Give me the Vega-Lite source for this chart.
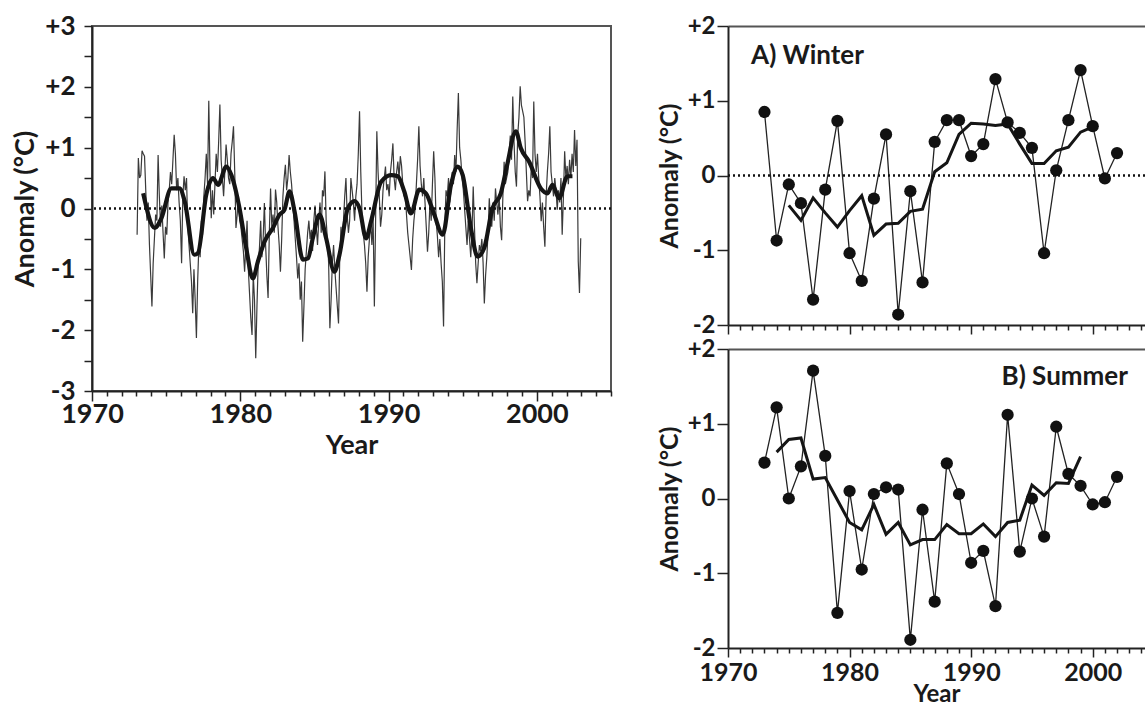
{
"$schema": "https://vega.github.io/schema/vega-lite/v6.json",
"background": "white",
"padding": {"left": 10, "top": 12, "right": 0, "bottom": 0},
"config": {
  "font": "Lato",
  "view": {"stroke": null},
  "axis": {"labelFont": "Lato", "labelFontWeight": "bold", "labelColor": "#1a1a1a", "titleFont": "Lato", "titleFontWeight": "bold", "titleColor": "#1a1a1a", "domainColor": "#222", "domainWidth": 2, "tickColor": "#222", "tickWidth": 1.5, "grid": false, "labelOverlap": false, "labelFlush": false, "labelBound": false}
},
"datasets": {
"monthly": [
{"t":1973.042,"v":-0.43},{"t":1973.125,"v":0.83},{"t":1973.208,"v":0.5},{"t":1973.292,"v":0.55},{"t":1973.375,"v":0.95},{"t":1973.458,"v":0.9},{"t":1973.542,"v":0.86},{"t":1973.625,"v":0.3},{"t":1973.708,"v":-0.2},{"t":1973.792,"v":0.1},{"t":1973.875,"v":-0.6},{"t":1973.958,"v":-1.1},
{"t":1974.042,"v":-1.61},{"t":1974.125,"v":-0.9},{"t":1974.208,"v":-0.5},{"t":1974.292,"v":-0.1},{"t":1974.375,"v":-0.2},{"t":1974.458,"v":0.88},{"t":1974.542,"v":0.2},{"t":1974.625,"v":-0.3},{"t":1974.708,"v":0.05},{"t":1974.792,"v":-0.4},{"t":1974.875,"v":-0.82},{"t":1974.958,"v":-0.3},
{"t":1975.042,"v":-0.43},{"t":1975.125,"v":0.1},{"t":1975.208,"v":0.3},{"t":1975.292,"v":0.6},{"t":1975.375,"v":0.4},{"t":1975.458,"v":0.8},{"t":1975.542,"v":1.21},{"t":1975.625,"v":0.9},{"t":1975.708,"v":0.3},{"t":1975.792,"v":0.5},{"t":1975.875,"v":0.1},{"t":1975.958,"v":-0.2},
{"t":1976.042,"v":-0.9},{"t":1976.125,"v":0.2},{"t":1976.208,"v":0.53},{"t":1976.292,"v":0.3},{"t":1976.375,"v":0.5},{"t":1976.458,"v":-0.3},{"t":1976.542,"v":-0.6},{"t":1976.625,"v":-0.9},{"t":1976.708,"v":-1.2},{"t":1976.792,"v":-1.72},{"t":1976.875,"v":-1.0},{"t":1976.958,"v":-1.5},
{"t":1977.042,"v":-2.13},{"t":1977.125,"v":-1.2},{"t":1977.208,"v":-0.6},{"t":1977.292,"v":-0.8},{"t":1977.375,"v":-0.2},{"t":1977.458,"v":-0.43},{"t":1977.542,"v":0.2},{"t":1977.625,"v":0.5},{"t":1977.708,"v":0.9},{"t":1977.792,"v":0.4},{"t":1977.875,"v":1.77},{"t":1977.958,"v":0.6},
{"t":1978.042,"v":-0.16},{"t":1978.125,"v":0.3},{"t":1978.208,"v":-0.1},{"t":1978.292,"v":0.4},{"t":1978.375,"v":0.9},{"t":1978.458,"v":0.6},{"t":1978.542,"v":1.1},{"t":1978.625,"v":1.71},{"t":1978.708,"v":0.8},{"t":1978.792,"v":0.5},{"t":1978.875,"v":0.2},{"t":1978.958,"v":0.6},
{"t":1979.042,"v":1.05},{"t":1979.125,"v":0.8},{"t":1979.208,"v":0.5},{"t":1979.292,"v":0.4},{"t":1979.375,"v":0.9},{"t":1979.458,"v":1.1},{"t":1979.542,"v":1.35},{"t":1979.625,"v":0.6},{"t":1979.708,"v":-0.32},{"t":1979.792,"v":-0.1},{"t":1979.875,"v":0.2},{"t":1979.958,"v":-0.2},
{"t":1980.042,"v":-0.3},{"t":1980.125,"v":-0.5},{"t":1980.208,"v":-0.7},{"t":1980.292,"v":-1.04},{"t":1980.375,"v":-0.6},{"t":1980.458,"v":-0.2},{"t":1980.542,"v":-1.0},{"t":1980.625,"v":-1.4},{"t":1980.708,"v":-1.8},{"t":1980.792,"v":-2.08},{"t":1980.875,"v":-1.09},{"t":1980.958,"v":-1.5},
{"t":1981.042,"v":-2.46},{"t":1981.125,"v":-1.6},{"t":1981.208,"v":-0.9},{"t":1981.292,"v":-0.65},{"t":1981.375,"v":-0.2},{"t":1981.458,"v":-0.8},{"t":1981.542,"v":-0.5},{"t":1981.625,"v":0.09},{"t":1981.708,"v":-0.6},{"t":1981.792,"v":-1.1},{"t":1981.875,"v":-1.47},{"t":1981.958,"v":-0.4},
{"t":1982.042,"v":0.33},{"t":1982.125,"v":-0.3},{"t":1982.208,"v":-0.1},{"t":1982.292,"v":-0.4},{"t":1982.375,"v":0.31},{"t":1982.458,"v":0.1},{"t":1982.542,"v":-0.3},{"t":1982.625,"v":-0.6},{"t":1982.708,"v":-1.04},{"t":1982.792,"v":-0.5},{"t":1982.875,"v":0.2},{"t":1982.958,"v":0.5},
{"t":1983.042,"v":0.72},{"t":1983.125,"v":0.3},{"t":1983.208,"v":0.5},{"t":1983.292,"v":0.88},{"t":1983.375,"v":0.6},{"t":1983.458,"v":0.4},{"t":1983.542,"v":0.1},{"t":1983.625,"v":-0.2},{"t":1983.708,"v":-0.5},{"t":1983.792,"v":-0.8},{"t":1983.875,"v":-1.15},{"t":1983.958,"v":-0.9},
{"t":1984.042,"v":-1.5},{"t":1984.125,"v":-1.2},{"t":1984.208,"v":-2.19},{"t":1984.292,"v":-1.61},{"t":1984.375,"v":-1.0},{"t":1984.458,"v":-0.7},{"t":1984.542,"v":-0.4},{"t":1984.625,"v":-0.2},{"t":1984.708,"v":-0.5},{"t":1984.792,"v":-0.35},{"t":1984.875,"v":-0.7},{"t":1984.958,"v":-0.2},
{"t":1985.042,"v":0.05},{"t":1985.125,"v":-0.3},{"t":1985.208,"v":-0.6},{"t":1985.292,"v":-0.2},{"t":1985.375,"v":0.1},{"t":1985.458,"v":-0.4},{"t":1985.542,"v":0.3},{"t":1985.625,"v":0.2},{"t":1985.708,"v":0.61},{"t":1985.792,"v":-0.2},{"t":1985.875,"v":-0.5},{"t":1985.958,"v":-0.9},
{"t":1986.042,"v":-1.97},{"t":1986.125,"v":-1.5},{"t":1986.208,"v":-0.9},{"t":1986.292,"v":-0.6},{"t":1986.375,"v":-1.0},{"t":1986.458,"v":-1.3},{"t":1986.542,"v":-1.6},{"t":1986.625,"v":-1.89},{"t":1986.708,"v":-0.8},{"t":1986.792,"v":-0.3},{"t":1986.875,"v":-0.6},{"t":1986.958,"v":-0.2},
{"t":1987.042,"v":0.2},{"t":1987.125,"v":0.5},{"t":1987.208,"v":-0.1},{"t":1987.292,"v":-0.4},{"t":1987.375,"v":-0.2},{"t":1987.458,"v":0.5},{"t":1987.542,"v":0.3},{"t":1987.625,"v":0.1},{"t":1987.708,"v":-0.2},{"t":1987.792,"v":0.2},{"t":1987.875,"v":0.4},{"t":1987.958,"v":0.9},
{"t":1988.042,"v":1.6},{"t":1988.125,"v":0.6},{"t":1988.208,"v":-0.1},{"t":1988.292,"v":-0.4},{"t":1988.375,"v":-0.6},{"t":1988.458,"v":-0.9},{"t":1988.542,"v":-1.37},{"t":1988.625,"v":-0.8},{"t":1988.708,"v":-0.5},{"t":1988.792,"v":-0.2},{"t":1988.875,"v":-0.6},{"t":1988.958,"v":-0.16},
{"t":1989.042,"v":-1.61},{"t":1989.125,"v":-0.2},{"t":1989.208,"v":1.27},{"t":1989.292,"v":0.6},{"t":1989.375,"v":0.2},{"t":1989.458,"v":-0.3},{"t":1989.542,"v":-0.1},{"t":1989.625,"v":0.3},{"t":1989.708,"v":0.5},{"t":1989.792,"v":0.69},{"t":1989.875,"v":0.3},{"t":1989.958,"v":0.4},
{"t":1990.042,"v":0.2},{"t":1990.125,"v":0.6},{"t":1990.208,"v":0.8},{"t":1990.292,"v":1.07},{"t":1990.375,"v":0.5},{"t":1990.458,"v":0.3},{"t":1990.542,"v":0.6},{"t":1990.625,"v":0.77},{"t":1990.708,"v":0.5},{"t":1990.792,"v":0.86},{"t":1990.875,"v":0.7},{"t":1990.958,"v":0.4},
{"t":1991.042,"v":0.2},{"t":1991.125,"v":0.3},{"t":1991.208,"v":-0.1},{"t":1991.292,"v":-0.4},{"t":1991.375,"v":-0.6},{"t":1991.458,"v":-0.8},{"t":1991.542,"v":-1.01},{"t":1991.625,"v":-0.5},{"t":1991.708,"v":-0.2},{"t":1991.792,"v":0.0},{"t":1991.875,"v":0.4},{"t":1991.958,"v":0.8},
{"t":1992.042,"v":1.35},{"t":1992.125,"v":0.7},{"t":1992.208,"v":0.4},{"t":1992.292,"v":0.2},{"t":1992.375,"v":0.5},{"t":1992.458,"v":0.1},{"t":1992.542,"v":-0.3},{"t":1992.625,"v":-0.71},{"t":1992.708,"v":-0.4},{"t":1992.792,"v":0.1},{"t":1992.875,"v":-0.2},{"t":1992.958,"v":0.4},
{"t":1993.042,"v":0.94},{"t":1993.125,"v":0.5},{"t":1993.208,"v":-0.2},{"t":1993.292,"v":-0.45},{"t":1993.375,"v":-0.8},{"t":1993.458,"v":-0.5},{"t":1993.542,"v":-0.9},{"t":1993.625,"v":-1.2},{"t":1993.708,"v":-1.94},{"t":1993.792,"v":-0.3},{"t":1993.875,"v":0.3},{"t":1993.958,"v":0.2},
{"t":1994.042,"v":0.5},{"t":1994.125,"v":0.1},{"t":1994.208,"v":0.3},{"t":1994.292,"v":0.6},{"t":1994.375,"v":0.4},{"t":1994.458,"v":0.88},{"t":1994.542,"v":0.6},{"t":1994.625,"v":1.3},{"t":1994.708,"v":1.9},{"t":1994.792,"v":1.0},{"t":1994.875,"v":0.8},{"t":1994.958,"v":0.5},
{"t":1995.042,"v":0.3},{"t":1995.125,"v":0.0},{"t":1995.208,"v":-0.3},{"t":1995.292,"v":-0.6},{"t":1995.375,"v":-0.2},{"t":1995.458,"v":-0.5},{"t":1995.542,"v":-0.8},{"t":1995.625,"v":-0.4},{"t":1995.708,"v":0.36},{"t":1995.792,"v":-0.3},{"t":1995.875,"v":-0.9},{"t":1995.958,"v":-1.23},
{"t":1996.042,"v":-0.9},{"t":1996.125,"v":-0.6},{"t":1996.208,"v":-0.7},{"t":1996.292,"v":-0.5},{"t":1996.375,"v":-0.9},{"t":1996.458,"v":-1.56},{"t":1996.542,"v":-1.1},{"t":1996.625,"v":-0.8},{"t":1996.708,"v":-0.4},{"t":1996.792,"v":0.17},{"t":1996.875,"v":-0.2},{"t":1996.958,"v":-0.3},
{"t":1997.042,"v":0.1},{"t":1997.125,"v":-0.2},{"t":1997.208,"v":0.33},{"t":1997.292,"v":0.1},{"t":1997.375,"v":-0.1},{"t":1997.458,"v":0.2},{"t":1997.542,"v":-0.3},{"t":1997.625,"v":-0.52},{"t":1997.708,"v":0.2},{"t":1997.792,"v":0.77},{"t":1997.875,"v":0.4},{"t":1997.958,"v":0.5},
{"t":1998.042,"v":0.6},{"t":1998.125,"v":0.9},{"t":1998.208,"v":1.2},{"t":1998.292,"v":0.8},{"t":1998.375,"v":1.84},{"t":1998.458,"v":1.1},{"t":1998.542,"v":0.6},{"t":1998.625,"v":0.36},{"t":1998.708,"v":1.2},{"t":1998.792,"v":1.5},{"t":1998.875,"v":2.01},{"t":1998.958,"v":1.7},
{"t":1999.042,"v":1.6},{"t":1999.125,"v":1.5},{"t":1999.208,"v":1.1},{"t":1999.292,"v":0.6},{"t":1999.375,"v":0.12},{"t":1999.458,"v":0.3},{"t":1999.542,"v":0.2},{"t":1999.625,"v":0.7},{"t":1999.708,"v":0.5},{"t":1999.792,"v":1.76},{"t":1999.875,"v":0.9},{"t":1999.958,"v":0.6},
{"t":2000.042,"v":0.9},{"t":2000.125,"v":0.5},{"t":2000.208,"v":0.2},{"t":2000.292,"v":-0.21},{"t":2000.375,"v":0.1},{"t":2000.458,"v":-0.3},{"t":2000.542,"v":-0.63},{"t":2000.625,"v":0.2},{"t":2000.708,"v":0.6},{"t":2000.792,"v":0.9},{"t":2000.875,"v":1.35},{"t":2000.958,"v":0.6},
{"t":2001.042,"v":0.4},{"t":2001.125,"v":0.2},{"t":2001.208,"v":0.5},{"t":2001.292,"v":0.3},{"t":2001.375,"v":-0.02},{"t":2001.458,"v":0.3},{"t":2001.542,"v":0.1},{"t":2001.625,"v":0.5},{"t":2001.708,"v":-0.43},{"t":2001.792,"v":0.2},{"t":2001.875,"v":0.94},{"t":2001.958,"v":0.5},
{"t":2002.042,"v":0.7},{"t":2002.125,"v":0.4},{"t":2002.208,"v":0.8},{"t":2002.292,"v":0.5},{"t":2002.375,"v":0.9},{"t":2002.458,"v":0.6},{"t":2002.542,"v":1.29},{"t":2002.625,"v":0.7},{"t":2002.708,"v":1.13},{"t":2002.792,"v":-0.87},{"t":2002.875,"v":-1.39},{"t":2002.958,"v":-0.49}
],
"smooth": [
{"t":1973.45,"v":0.25},{"t":1974.23,"v":-0.32},{"t":1974.68,"v":-0.16},{"t":1975.35,"v":0.33},{"t":1975.9,"v":0.33},{"t":1976.25,"v":0.12},{"t":1976.9,"v":-0.76},{"t":1977.15,"v":-0.73},{"t":1977.7,"v":0.22},{"t":1978.16,"v":0.5},{"t":1978.5,"v":0.39},{"t":1979.06,"v":0.69},{"t":1979.4,"v":0.55},{"t":1979.95,"v":0.0},{"t":1980.4,"v":-0.65},{"t":1980.85,"v":-1.15},{"t":1981.19,"v":-0.87},{"t":1981.64,"v":-0.54},{"t":1982.2,"v":-0.32},{"t":1982.65,"v":-0.1},{"t":1982.98,"v":-0.02},{"t":1983.32,"v":0.28},{"t":1983.66,"v":-0.05},{"t":1984.22,"v":-0.84},{"t":1984.56,"v":-0.82},{"t":1984.89,"v":-0.49},{"t":1985.34,"v":-0.1},{"t":1985.79,"v":-0.49},{"t":1986.35,"v":-1.04},{"t":1986.69,"v":-0.76},{"t":1987.25,"v":0.0},{"t":1987.7,"v":0.12},{"t":1988.04,"v":0.0},{"t":1988.48,"v":-0.49},{"t":1988.82,"v":-0.21},{"t":1989.5,"v":0.44},{"t":1990.17,"v":0.55},{"t":1990.62,"v":0.53},{"t":1991.06,"v":0.28},{"t":1991.51,"v":-0.08},{"t":1992.07,"v":0.31},{"t":1992.52,"v":0.25},{"t":1993.08,"v":-0.1},{"t":1993.65,"v":-0.43},{"t":1994.21,"v":0.39},{"t":1994.66,"v":0.69},{"t":1995.0,"v":0.55},{"t":1995.55,"v":-0.32},{"t":1996.0,"v":-0.79},{"t":1996.45,"v":-0.65},{"t":1997.0,"v":0.0},{"t":1997.57,"v":0.25},{"t":1998.0,"v":0.72},{"t":1998.58,"v":1.27},{"t":1998.92,"v":0.99},{"t":1999.48,"v":0.77},{"t":2000.27,"v":0.33},{"t":2000.72,"v":0.25},{"t":2001.05,"v":0.39},{"t":2001.5,"v":0.17},{"t":2002.06,"v":0.53},{"t":2002.4,"v":0.53}
],
"winter": [
{"year":1973,"v":0.85},{"year":1974,"v":-0.87},{"year":1975,"v":-0.12},{"year":1976,"v":-0.37},{"year":1977,"v":-1.66},{"year":1978,"v":-0.19},{"year":1979,"v":0.73},{"year":1980,"v":-1.04},{"year":1981,"v":-1.41},{"year":1982,"v":-0.31},{"year":1983,"v":0.55},{"year":1984,"v":-1.86},{"year":1985,"v":-0.21},{"year":1986,"v":-1.43},{"year":1987,"v":0.45},{"year":1988,"v":0.74},{"year":1989,"v":0.74},{"year":1990,"v":0.26},{"year":1991,"v":0.42},{"year":1992,"v":1.29},{"year":1993,"v":0.71},{"year":1994,"v":0.57},{"year":1995,"v":0.37},{"year":1996,"v":-1.04},{"year":1997,"v":0.07},{"year":1998,"v":0.74},{"year":1999,"v":1.41},{"year":2000,"v":0.66},{"year":2001,"v":-0.04},{"year":2002,"v":0.3}
],
"winterMean": [
{"year":1975,"v":-0.4},{"year":1976,"v":-0.6},{"year":1977,"v":-0.3},{"year":1978,"v":-0.5},{"year":1979,"v":-0.69},{"year":1980,"v":-0.47},{"year":1981,"v":-0.27},{"year":1982,"v":-0.8},{"year":1983,"v":-0.65},{"year":1984,"v":-0.64},{"year":1985,"v":-0.48},{"year":1986,"v":-0.45},{"year":1987,"v":0.05},{"year":1988,"v":0.17},{"year":1989,"v":0.55},{"year":1990,"v":0.7},{"year":1991,"v":0.69},{"year":1992,"v":0.67},{"year":1993,"v":0.69},{"year":1994,"v":0.42},{"year":1995,"v":0.16},{"year":1996,"v":0.16},{"year":1997,"v":0.33},{"year":1998,"v":0.38},{"year":1999,"v":0.58},{"year":2000,"v":0.65}
],
"summer": [
{"year":1973,"v":0.48},{"year":1974,"v":1.22},{"year":1975,"v":0.0},{"year":1976,"v":0.43},{"year":1977,"v":1.71},{"year":1978,"v":0.57},{"year":1979,"v":-1.53},{"year":1980,"v":0.1},{"year":1981,"v":-0.95},{"year":1982,"v":0.06},{"year":1983,"v":0.15},{"year":1984,"v":0.12},{"year":1985,"v":-1.89},{"year":1986,"v":-0.15},{"year":1987,"v":-1.38},{"year":1988,"v":0.47},{"year":1989,"v":0.06},{"year":1990,"v":-0.86},{"year":1991,"v":-0.7},{"year":1992,"v":-1.44},{"year":1993,"v":1.12},{"year":1994,"v":-0.71},{"year":1995,"v":0.0},{"year":1996,"v":-0.51},{"year":1997,"v":0.96},{"year":1998,"v":0.33},{"year":1999,"v":0.17},{"year":2000,"v":-0.08},{"year":2001,"v":-0.05},{"year":2002,"v":0.29}
],
"summerMean": [
{"year":1974,"v":0.62},{"year":1975,"v":0.79},{"year":1976,"v":0.81},{"year":1977,"v":0.26},{"year":1978,"v":0.28},{"year":1979,"v":-0.02},{"year":1980,"v":-0.32},{"year":1981,"v":-0.42},{"year":1982,"v":-0.08},{"year":1983,"v":-0.48},{"year":1984,"v":-0.32},{"year":1985,"v":-0.62},{"year":1986,"v":-0.55},{"year":1987,"v":-0.55},{"year":1988,"v":-0.35},{"year":1989,"v":-0.47},{"year":1990,"v":-0.47},{"year":1991,"v":-0.34},{"year":1992,"v":-0.51},{"year":1993,"v":-0.32},{"year":1994,"v":-0.29},{"year":1995,"v":0.18},{"year":1996,"v":0.04},{"year":1997,"v":0.21},{"year":1998,"v":0.2},{"year":1999,"v":0.56}
]
},
"spacing": 117,
"bounds": "flush",
"hconcat": [
{
  "width": 519, "height": 365,
  "view": {"stroke": "#555", "strokeWidth": 2},
  "resolve": {"axis": {"x": "independent", "y": "independent"}},
  "layer": [
    {"data": {"name": "monthly"}, "mark": {"type": "line", "color": "#3a3a3a", "strokeWidth": 1.2},
     "encoding": {
       "x": {"field": "t", "type": "quantitative", "scale": {"domain": [1970, 2005], "nice": false, "zero": false},
             "axis": {"values": [1970,1971,1972,1973,1974,1975,1976,1977,1978,1979,1980,1981,1982,1983,1984,1985,1986,1987,1988,1989,1990,1991,1992,1993,1994,1995,1996,1997,1998,1999,2000,2001,2002,2003,2004,2005],
                      "labelExpr": "datum.value % 10 === 0 ? '' + datum.value : ''",
                      "labelOverlap": false,
                      "tickSize": {"condition": {"test": "datum.value % 10 === 0", "value": 10}, "value": 5},
                      "labelFontSize": 27, "labelPadding": 0, "title": "Year", "titleFontSize": 27, "titlePadding": 5}},
       "y": {"field": "v", "type": "quantitative", "scale": {"domain": [-3, 3], "nice": false, "zero": false},
             "axis": {"values": [-3,-2.5,-2,-1.5,-1,-0.5,0,0.5,1,1.5,2,2.5,3],
                      "labelExpr": "datum.value % 1 !== 0 ? '' : (datum.value > 0 ? '+' + datum.value : '' + datum.value)",
                      "labelOverlap": false,
                      "tickSize": 8, "labelFontSize": 26, "labelPadding": 9, "title": "Anomaly (°C)", "titleFontSize": 27, "titlePadding": 5}}
     }},
    {"data": {"name": "smooth"}, "mark": {"type": "line", "color": "#151515", "strokeWidth": 4.2, "interpolate": "monotone"},
     "encoding": {
       "x": {"field": "t", "type": "quantitative", "scale": {"domain": [1970, 2005], "nice": false, "zero": false}, "axis": null},
       "y": {"field": "v", "type": "quantitative", "scale": {"domain": [-3, 3], "nice": false, "zero": false}, "axis": null}
     }},
    {"data": {"values": [{"v": 0}]}, "mark": {"type": "rule", "color": "#111", "strokeWidth": 2.4, "strokeDash": [2, 3]},
     "encoding": {"y": {"field": "v", "type": "quantitative", "scale": {"domain": [-3, 3], "nice": false, "zero": false}, "axis": null}}}
  ]
},
{
  "spacing": 24,
  "bounds": "flush",
  "vconcat": [
  {
    "width": 417, "height": 299,
    "resolve": {"axis": {"x": "independent"}},
    "layer": [
      {"data": {"name": "winter"}, "mark": {"type": "line", "color": "#222", "strokeWidth": 1.3},
       "encoding": {
         "x": {"field": "year", "type": "quantitative", "scale": {"domain": [1970, 2004.3], "nice": false, "zero": false},
               "axis": {"values": [1970,1971,1972,1973,1974,1975,1976,1977,1978,1979,1980,1981,1982,1983,1984,1985,1986,1987,1988,1989,1990,1991,1992,1993,1994,1995,1996,1997,1998,1999,2000,2001,2002,2003,2004],
                        "labels": false,
                        "tickSize": {"condition": {"test": "datum.value % 10 === 0", "value": 9}, "value": 5},
                        "title": null}},
         "y": {"field": "v", "type": "quantitative", "scale": {"domain": [-2, 2], "nice": false, "zero": false},
               "axis": {"values": [-2,-1.5,-1,-0.5,0,0.5,1,1.5,2],
                        "labelExpr": "datum.value % 1 !== 0 ? '' : (datum.value > 0 ? '+' + datum.value : '' + datum.value)",
                        "labelOverlap": false,
                        "tickSize": {"condition": {"test": "datum.value % 1 === 0", "value": 11}, "value": 6},
                        "labelFontSize": 24, "labelPadding": 2, "title": "Anomaly (°C)", "titleFontSize": 25, "titlePadding": 5}}
       }},
      {"data": {"name": "winterMean"}, "mark": {"type": "line", "color": "#151515", "strokeWidth": 3},
       "encoding": {
         "x": {"field": "year", "type": "quantitative", "scale": {"domain": [1970, 2004.3], "nice": false, "zero": false}, "axis": null},
         "y": {"field": "v", "type": "quantitative", "scale": {"domain": [-2, 2], "nice": false, "zero": false}}
       }},
      {"data": {"name": "winter"}, "mark": {"type": "point", "shape": "circle", "filled": true, "size": 150, "color": "#111", "opacity": 1},
       "encoding": {
         "x": {"field": "year", "type": "quantitative", "scale": {"domain": [1970, 2004.3], "nice": false, "zero": false}, "axis": null},
         "y": {"field": "v", "type": "quantitative", "scale": {"domain": [-2, 2], "nice": false, "zero": false}}
       }},
      {"data": {"values": [{"v": 0}]}, "mark": {"type": "rule", "color": "#111", "strokeWidth": 2.4, "strokeDash": [2, 3]},
       "encoding": {"y": {"field": "v", "type": "quantitative", "scale": {"domain": [-2, 2], "nice": false, "zero": false}}}},
      {"data": {"values": [{"year": 1971.9, "v": 1.6, "label": "A) Winter"}]},
       "mark": {"type": "text", "align": "left", "baseline": "middle", "font": "Lato", "fontSize": 26, "fontWeight": "bold", "color": "#1a1a1a"},
       "encoding": {
         "x": {"field": "year", "type": "quantitative", "scale": {"domain": [1970, 2004.3], "nice": false, "zero": false},
               "axis": {"orient": "top", "labels": false, "ticks": false, "title": null, "domainColor": "#555", "domainWidth": 2}},
         "y": {"field": "v", "type": "quantitative", "scale": {"domain": [-2, 2], "nice": false, "zero": false}},
         "text": {"field": "label"}
       }}
    ]
  },
  {
    "width": 417, "height": 299,
    "resolve": {"axis": {"x": "independent"}},
    "layer": [
      {"data": {"name": "summer"}, "mark": {"type": "line", "color": "#222", "strokeWidth": 1.3},
       "encoding": {
         "x": {"field": "year", "type": "quantitative", "scale": {"domain": [1970, 2004.3], "nice": false, "zero": false},
               "axis": {"values": [1970,1971,1972,1973,1974,1975,1976,1977,1978,1979,1980,1981,1982,1983,1984,1985,1986,1987,1988,1989,1990,1991,1992,1993,1994,1995,1996,1997,1998,1999,2000,2001,2002,2003,2004],
                        "labelExpr": "datum.value % 10 === 0 ? '' + datum.value : ''",
                        "labelOverlap": false,
                        "tickSize": {"condition": {"test": "datum.value % 10 === 0", "value": 9}, "value": 5},
                        "labelFontSize": 25, "labelPadding": 3, "title": "Year", "titleFontSize": 24, "titlePadding": -3}},
         "y": {"field": "v", "type": "quantitative", "scale": {"domain": [-2, 2], "nice": false, "zero": false},
               "axis": {"values": [-2,-1.5,-1,-0.5,0,0.5,1,1.5,2],
                        "labelExpr": "datum.value % 1 !== 0 ? '' : (datum.value > 0 ? '+' + datum.value : '' + datum.value)",
                        "labelOverlap": false,
                        "tickSize": {"condition": {"test": "datum.value % 1 === 0", "value": 11}, "value": 6},
                        "labelFontSize": 24, "labelPadding": 2, "title": "Anomaly (°C)", "titleFontSize": 25, "titlePadding": 5}}
       }},
      {"data": {"name": "summerMean"}, "mark": {"type": "line", "color": "#151515", "strokeWidth": 3},
       "encoding": {
         "x": {"field": "year", "type": "quantitative", "scale": {"domain": [1970, 2004.3], "nice": false, "zero": false}, "axis": null},
         "y": {"field": "v", "type": "quantitative", "scale": {"domain": [-2, 2], "nice": false, "zero": false}}
       }},
      {"data": {"name": "summer"}, "mark": {"type": "point", "shape": "circle", "filled": true, "size": 150, "color": "#111", "opacity": 1},
       "encoding": {
         "x": {"field": "year", "type": "quantitative", "scale": {"domain": [1970, 2004.3], "nice": false, "zero": false}, "axis": null},
         "y": {"field": "v", "type": "quantitative", "scale": {"domain": [-2, 2], "nice": false, "zero": false}}
       }},
      {"data": {"values": [{"year": 1992.5, "v": 1.63, "label": "B) Summer"}]},
       "mark": {"type": "text", "align": "left", "baseline": "middle", "font": "Lato", "fontSize": 26, "fontWeight": "bold", "color": "#1a1a1a"},
       "encoding": {
         "x": {"field": "year", "type": "quantitative", "scale": {"domain": [1970, 2004.3], "nice": false, "zero": false},
               "axis": {"orient": "top", "labels": false, "ticks": false, "title": null, "domainColor": "#555", "domainWidth": 2}},
         "y": {"field": "v", "type": "quantitative", "scale": {"domain": [-2, 2], "nice": false, "zero": false}},
         "text": {"field": "label"}
       }}
    ]
  }
  ]
}
]
}
